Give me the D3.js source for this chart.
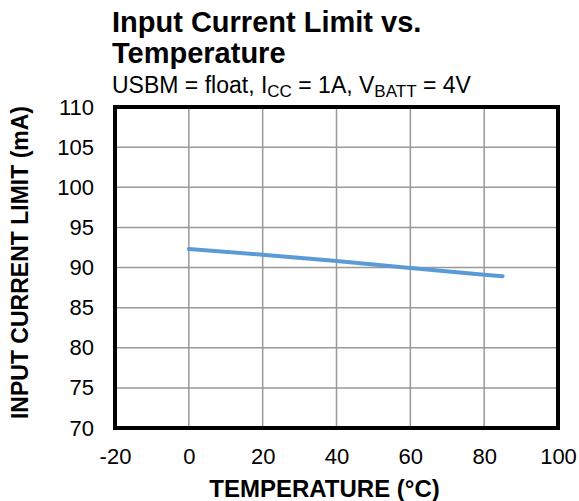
<!DOCTYPE html>
<html>
<head>
  <script src="https://d3js.org/d3.v7.min.js"></script>
  <style>
    body { margin: 0; background: #fff; }
    text { font-family: "Liberation Sans", Arial, sans-serif; }
  </style>
</head>
<body>
  <svg width="579" height="501"></svg>
  <script>
    // datos
    const temps = [0, 20, 40, 60, 80, 85];
    const currents = [92.3, 91.6, 90.8, 89.95, 89.1, 88.9];
    const xTicks = [-20, 0, 20, 40, 60, 80, 100];
    const yTicks = [70, 75, 80, 85, 90, 95, 100, 105, 110];

    const svg = d3.select("svg");
    const pLeft = 115, pRight = 558, pTop = 107, pBottom = 428;

    const x = d3.scaleLinear().domain([-20, 100]).range([pLeft, pRight]);
    const y = d3.scaleLinear().domain([70, 110]).range([pBottom, pTop]);

    // rejilla
    svg.append("g")
      .selectAll("line")
      .data(xTicks.slice(1, -1))
      .enter().append("line")
      .attr("x1", d => x(d)).attr("x2", d => x(d))
      .attr("y1", pTop).attr("y2", pBottom)
      .attr("stroke", "#999").attr("stroke-width", 1.5);

    svg.append("g")
      .selectAll("line")
      .data(yTicks.slice(1, -1))
      .enter().append("line")
      .attr("x1", pLeft).attr("x2", pRight)
      .attr("y1", d => y(d)).attr("y2", d => y(d))
      .attr("stroke", "#999").attr("stroke-width", 1.5);

    // linea de datos
    const pts = temps.map((t, i) => [t, currents[i]]);
    svg.append("path")
      .datum(pts)
      .attr("fill", "none")
      .attr("stroke", "#5B9BD5")
      .attr("stroke-width", 4)
      .attr("stroke-linecap", "round")
      .attr("d", d3.line().x(d => x(d[0])).y(d => y(d[1])));

    // marco
    svg.append("rect")
      .attr("x", pLeft).attr("y", pTop)
      .attr("width", pRight - pLeft).attr("height", pBottom - pTop)
      .attr("fill", "none").attr("stroke", "#000").attr("stroke-width", 4);

    // ejes
    const xAxis = svg.append("g")
      .attr("transform", `translate(0,${pBottom})`)
      .call(d3.axisBottom(x).tickValues(xTicks).tickFormat(d => String(d))
        .tickSize(0).tickPadding(20));
    const yAxis = svg.append("g")
      .attr("transform", `translate(${pLeft},0)`)
      .call(d3.axisLeft(y).tickValues(yTicks).tickFormat(d => String(d))
        .tickSize(0).tickPadding(21));
    [xAxis, yAxis].forEach(a => {
      a.select(".domain").remove();
      a.selectAll("text")
        .style("font-family", "'Liberation Sans', Arial, sans-serif")
        .style("font-size", "22px")
        .attr("fill", "#000");
    });

    // titulos
    svg.append("text").attr("x", 112).attr("y", 32)
      .style("font-size", "29px").style("font-weight", "bold")
      .text("Input Current Limit vs.");
    svg.append("text").attr("x", 112).attr("y", 63)
      .style("font-size", "29px").style("font-weight", "bold")
      .text("Temperature");

    const sub = svg.append("text").attr("x", 112).attr("y", 93)
      .style("font-size", "23px");
    sub.append("tspan").text("USBM = float, I");
    sub.append("tspan").attr("dy", 4).style("font-size", "17px").text("CC");
    sub.append("tspan").attr("dy", -4).text(" = 1A, V");
    sub.append("tspan").attr("dy", 4).style("font-size", "17px").text("BATT");
    sub.append("tspan").attr("dy", -4).text(" = 4V");

    svg.append("text")
      .attr("x", (pLeft + pRight) / 2 - 12).attr("y", 497)
      .attr("text-anchor", "middle")
      .style("font-size", "24px").style("font-weight", "bold")
      .text("TEMPERATURE (°C)");

    svg.append("text")
      .attr("transform", `translate(28,${(pTop + pBottom) / 2 - 5}) rotate(-90)`)
      .attr("text-anchor", "middle")
      .style("font-size", "23px").style("font-weight", "bold")
      .text("INPUT CURRENT LIMIT (mA)");
  </script>
</body>
</html>
